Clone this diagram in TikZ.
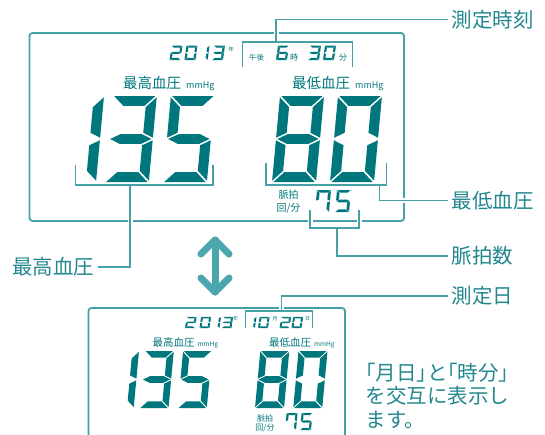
\documentclass[tikz,border=0pt]{standalone}
\usepackage{fontspec}
\setmainfont{Noto Sans CJK JP}

\definecolor{lcdink}{HTML}{00777C}
\definecolor{lineink}{HTML}{45A0A7}
\definecolor{labelink}{HTML}{23878E}
\definecolor{arrowink}{HTML}{4BA6AD}

\def\sg{0.03}
\tikzset{
  seg/.style={fill=lcdink},
  seg a/.pic={\fill[seg] (\sg,2) -- (1-\sg,2) -- (1-\tx-\sg,2-\ty) -- (\tx+\sg,2-\ty) -- cycle;},
  seg b/.pic={\fill[seg] (1,2-\sg) -- (1,1+\sg) -- (1-\tx,1+\ty/2+\sg) -- (1-\tx,2-\ty-\sg) -- cycle;},
  seg c/.pic={\fill[seg] (1,\sg) -- (1,1-\sg) -- (1-\tx,1-\ty/2-\sg) -- (1-\tx,\ty+\sg) -- cycle;},
  seg d/.pic={\fill[seg] (\sg,0) -- (1-\sg,0) -- (1-\tx-\sg,\ty) -- (\tx+\sg,\ty) -- cycle;},
  seg e/.pic={\fill[seg] (0,\sg) -- (0,1-\sg) -- (\tx,1-\ty/2-\sg) -- (\tx,\ty+\sg) -- cycle;},
  seg f/.pic={\fill[seg] (0,2-\sg) -- (0,1+\sg) -- (\tx,1+\ty/2+\sg) -- (\tx,2-\ty-\sg) -- cycle;},
  seg g/.pic={\fill[seg] (\sg,1) -- (\tx+\sg,1+\ty/2) -- (1-\tx-\sg,1+\ty/2) -- (1-\sg,1) -- (1-\tx-\sg,1-\ty/2) -- (\tx+\sg,1-\ty/2) -- cycle;},
  d0/.pic={\foreach \s in {a,b,c,d,e,f} \pic {seg \s};},
  d1/.pic={\foreach \s in {b,c} \pic {seg \s};},
  d2/.pic={\foreach \s in {a,b,g,e,d} \pic {seg \s};},
  d3/.pic={\foreach \s in {a,b,g,c,d} \pic {seg \s};},
  d5/.pic={\foreach \s in {a,f,g,c,d} \pic {seg \s};},
  d6/.pic={\foreach \s in {a,f,g,e,c,d} \pic {seg \s};},
  d7/.pic={\foreach \s in {a,f,b,c} \pic {seg \s};},
  d8/.pic={\foreach \s in {a,b,c,d,e,f,g} \pic {seg \s};},
  % digit sizes
  main digits/.style={x={(44pt,0pt)},y={(4pt,43pt)},/utils/exec={\def\tx{0.23}\def\ty{0.23}}},
  main sub/.style={x={(29pt,0pt)},y={(2.65pt,28.5pt)},/utils/exec={\def\tx{0.23}\def\ty{0.23}}},
  pulse digits/.style={x={(14pt,0pt)},y={(1pt,11pt)},/utils/exec={\def\tx{0.2}\def\ty{0.24}}},
  pulse sub/.style={x={(11pt,0pt)},y={(0.8pt,8.5pt)},/utils/exec={\def\tx{0.2}\def\ty{0.24}}},
  date digits/.style={x={(11pt,0pt)},y={(1pt,7.2pt)},/utils/exec={\def\tx{0.2}\def\ty{0.28}}},
  date sub/.style={x={(10pt,0pt)},y={(0.8pt,5.6pt)},/utils/exec={\def\tx{0.2}\def\ty{0.28}}},
  lcdframe/.style={draw=lineink, line width=1.8pt, rounded corners=3pt},
  lcdtext/.style={text=lcdink, inner sep=0pt},
  bracket/.style={draw=lineink, line width=1.5pt, preaction={draw=white, line width=5pt}},
  leader/.style={draw=lineink, line width=1.5pt, preaction={draw=white, line width=5pt, shorten >=2pt}},
  callout/.style={text=labelink, font=\fontsize{20.5}{23.5}\selectfont},
  swaparrow/.style={draw=arrowink, line width=7pt, line cap=round, line join=round},
}

\begin{document}
\begin{tikzpicture}[x=1pt,y=-1pt]
\useasboundingbox (0,0) rectangle (545,434);

% upper display (time)
\draw[lcdframe] (29.5,33) rectangle (404,221);

\begin{scope}[shift={(169.5,60)}, date digits]
  \foreach \d/\p in {2/0, 0/1.36, 1/2.46, 3/3.86} \pic at (\p,0) {d\d};
\end{scope}
\node[lcdtext, font=\fontsize{5.5}{5.5}\selectfont] at (231,49) {年};
\node[lcdtext, font=\fontsize{7.5}{7.5}\selectfont] at (256.5,58) {午後};
\begin{scope}[shift={(276,60)}, date digits]
  \foreach \d/\p in {6/0, 3/2.91, 0/4.27} \pic at (\p,0) {d\d};
\end{scope}
\node[lcdtext, font=\fontsize{8}{8}\selectfont] at (294,57.5) {時};
\node[lcdtext, font=\fontsize{8}{8}\selectfont] at (343,57.5) {分};

\node[lcdtext, anchor=west, font=\fontsize{14.5}{14.5}\selectfont] (sysHead) at (123,84) {最高血圧\hspace{5pt}{\fontsize{9}{9}\selectfont mmHg}};
\node[lcdtext, anchor=west, font=\fontsize{14.5}{14.5}\selectfont] (diaHead) at (292,84) {最低血圧\hspace{5pt}{\fontsize{9}{9}\selectfont mmHg}};

\begin{scope}[shift={(52,182)}, main digits]
  \foreach \d/\p in {1/0, 3/1.2, 5/2.52} \pic at (\p,0) {d\d};
\end{scope}
\begin{scope}[shift={(272,182)}, main digits]
  \foreach \d/\p in {8/0, 0/1.318} \pic at (\p,0) {d\d};
\end{scope}

\node[lcdtext, align=center, font=\fontsize{10}{13}\selectfont] (pulseHead) at (288.5,202) {脈拍\\回/分};
\begin{scope}[shift={(315,212)}, pulse digits]
  \foreach \d/\p in {7/0, 5/1.43} \pic at (\p,0) {d\d};
\end{scope}

% lower display (date)
\draw[lcdframe] (88.5,450) -- (88.5,308) -- (345,308) -- (345,450);

\begin{scope}[shift={(185,328)}, date sub]
  \foreach \d/\p in {2/0, 0/1.45, 1/2.44, 3/3.65} \pic at (\p,0) {d\d};
\end{scope}
\node[lcdtext, font=\fontsize{5}{5}\selectfont] at (235.5,319) {年};
\begin{scope}[shift={(244.9,328)}, date sub]
  \foreach \d/\p in {1/0, 0/1.31, 2/3.46, 0/4.66} \pic at (\p,0) {d\d};
\end{scope}
\node[lcdtext, font=\fontsize{5}{5}\selectfont] at (275,319) {月};
\node[lcdtext, font=\fontsize{5}{5}\selectfont] at (307.5,319) {日};

\node[lcdtext, anchor=west, font=\fontsize{10.5}{10.5}\selectfont] (sysHead2) at (152.5,343) {最高血圧\hspace{3pt}{\fontsize{6.5}{6.5}\selectfont mmHg}};
\node[lcdtext, anchor=west, font=\fontsize{10.5}{10.5}\selectfont] (diaHead2) at (269,343) {最低血圧\hspace{3pt}{\fontsize{6.5}{6.5}\selectfont mmHg}};

\begin{scope}[shift={(104.7,408)}, main sub]
  \foreach \d/\p in {1/0, 3/1.2, 5/2.52} \pic at (\p,0) {d\d};
\end{scope}
\begin{scope}[shift={(255,408)}, main sub]
  \foreach \d/\p in {8/0, 0/1.318} \pic at (\p,0) {d\d};
\end{scope}

\node[lcdtext, align=center, font=\fontsize{8}{9.5}\selectfont] (pulseHead2) at (265,423.5) {脈拍\\回/分};
\begin{scope}[shift={(285,430)}, pulse sub]
  \foreach \d/\p in {7/0, 5/1.36} \pic at (\p,0) {d\d};
\end{scope}

% brackets
\draw[bracket] (242.7,67) |- (352.6,42) -- (352.6,67);
\draw[bracket] (75.6,165) |- (213,185) -- (213,165);
\draw[bracket] (266,163) |- (386.5,185) -- (386.5,163);
\draw[bracket] (310,210) |- (359,228) -- (359,210);
\draw[bracket] (245.5,328) |- (312.5,311) -- (312.5,328);

\coordinate (timeBr) at (276,42);
\coordinate (sysBr) at (130,185);
\coordinate (diaBr) at (379.6,185);
\coordinate (pulseBr) at (337,228);
\coordinate (dayBr) at (281.5,311);

% callouts
\node[callout, anchor=west] (lblTime) at (448,19.5) {測定時刻};
\node[callout, anchor=west] (lblDia) at (448,200.5) {最低血圧};
\node[callout, anchor=west] (lblPulse) at (448,256) {脈拍数};
\node[callout, anchor=west] (lblDay) at (448,296) {測定日};
\node[callout, anchor=east] (lblSys) at (98,267) {最高血圧};

\draw[leader] (lblTime.west) -| (timeBr);
\draw[leader] (lblDia.west) -| (diaBr);
\draw[leader] (lblPulse.west) -| (pulseBr);
\draw[leader] (lblDay.west) -| (dayBr);
\draw[leader] (lblSys.east) -| (sysBr);

% swap arrow
\draw[swaparrow] (215,240) -- (215,292);
\draw[swaparrow] (201,254) -- (215,240) -- (229,254);
\draw[swaparrow] (201,278) -- (215,292) -- (229,278);

\node[callout, anchor=north west, align=left] (note) at (362,359.5) {\kern-.5em「月日」\kern-.5em と\kern-.5em「時分」\\を交互に表示し\\ます。};
\end{tikzpicture}
\end{document}
